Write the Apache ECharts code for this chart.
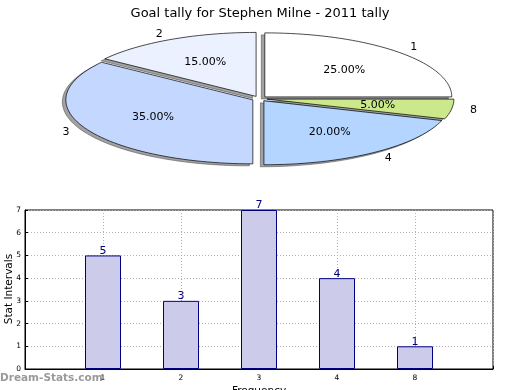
<!DOCTYPE html>
<html><head><meta charset="utf-8">
<script src="https://cdn.jsdelivr.net/npm/echarts@6/dist/echarts.min.js"></script>
<style>html,body{margin:0;padding:0;background:#fff}#c{width:520px;height:390px}</style>
</head><body><div id="c"></div>
<script>
const title = 'Goal tally for Stephen Milne - 2011 tally';
const categories = ['1', '2', '3', '4', '8'];
const counts = [5, 3, 7, 4, 1];
const sliceColors = ['#ffffff', '#ebf1ff', '#c4d7ff', '#b4d5ff', '#cbe88b'];
const yTicks = [0, 1, 2, 3, 4, 5, 6, 7];

const total = counts.reduce((a, b) => a + b, 0);
const PIE = {cx: 259.5, cy: 98.7, rx: 187, ry: 64, explode: 0.04, shadowDx: -3.5, shadowDy: 2};

function sliceGeom(idx) {
  let start = 0;
  for (let i = 0; i < idx; i++) start += counts[i] / total * 360;
  const end = start + counts[idx] / total * 360;
  const mid = (start + end) / 2 * Math.PI / 180;
  const ox = PIE.explode * PIE.rx * Math.cos(mid);
  const oy = -PIE.explode * PIE.ry * Math.sin(mid);
  const pts = [[PIE.cx + ox, PIE.cy + oy]];
  const n = Math.max(4, Math.ceil((end - start) / 2));
  for (let k = 0; k <= n; k++) {
    const a = (start + (end - start) * k / n) * Math.PI / 180;
    pts.push([PIE.cx + ox + PIE.rx * Math.cos(a), PIE.cy + oy - PIE.ry * Math.sin(a)]);
  }
  return {pts, mid, ox, oy};
}

const chart = echarts.init(document.getElementById('c'), null, {renderer: 'canvas'});
const font = 'DejaVu Sans';

chart.setOption({
  animation: false,
  textStyle: {fontFamily: font},
  title: {text: title, left: 'center', top: 2, textStyle: {fontFamily: font, fontSize: 13, fontWeight: 'normal', color: '#000'}},
  graphic: [
    {type: 'text', left: 0, top: 373, style: {text: 'Dream-Stats.com', fill: '#9a9a9a', font: 'bold 10.5px "DejaVu Sans"'}},
    {type: 'text', x: 9, y: 289, rotation: Math.PI / 2, style: {text: 'Stat Intervals', fill: '#000', font: '10.5px "DejaVu Sans"', align: 'center', verticalAlign: 'middle'}}
  ],
  grid: {left: 25, right: 27, top: 210, bottom: 21, show: true, borderColor: '#000', borderWidth: 1, outerBoundsMode: 'none', containLabel: false},
  xAxis: {
    type: 'value', min: 0, max: 6, interval: 1,
    name: 'Frequency', nameLocation: 'middle', nameGap: 17,
    nameTextStyle: {fontFamily: font, fontSize: 10.5, color: '#000'},
    axisLine: {show: true, lineStyle: {color: '#000'}},
    axisTick: {show: true, inside: true, length: 3, lineStyle: {color: '#000'}},
    axisLabel: {fontFamily: font, fontSize: 7.5, color: '#000', margin: 5,
      formatter: v => (v >= 1 && v <= categories.length) ? categories[v - 1] : ''},
    splitLine: {show: true, lineStyle: {color: '#b0b0b0', type: [1, 2], width: 1}}
  },
  yAxis: {
    type: 'value', min: 0, max: 7, interval: 1,
    axisLine: {show: true, lineStyle: {color: '#000'}},
    axisTick: {show: true, inside: true, length: 3, lineStyle: {color: '#000'}},
    axisLabel: {fontFamily: font, fontSize: 7.5, color: '#000', margin: 4,
      formatter: v => yTicks.includes(v) ? String(v) : ''},
    splitLine: {show: true, lineStyle: {color: '#b0b0b0', type: [1, 2], width: 1}}
  },
  series: [
    {
      type: 'bar', barWidth: 36,
      data: counts.map((v, i) => [i + 1, v]),
      itemStyle: {color: '#ccccea', borderColor: '#000080', borderWidth: 1},
      label: {show: true, position: 'top', distance: -1, color: '#000080', fontFamily: font, fontSize: 11},
      z: 3
    },
    {
      type: 'custom', coordinateSystem: 'none', z: 1,
      data: counts.map((v, i) => [i, v]),
      renderItem: function (params, api) {
        const g = sliceGeom(params.dataIndex);
        return {type: 'polygon', shape: {points: g.pts.map(p => [p[0] + PIE.shadowDx, p[1] + PIE.shadowDy])},
          style: {fill: 'rgba(70,70,70,0.5)', stroke: 'rgba(60,60,60,0.6)', lineWidth: 0.8}};
      }
    },
    {
      type: 'custom', coordinateSystem: 'none', z: 2,
      data: counts.map((v, i) => [i, v]),
      renderItem: function (params, api) {
        const i = params.dataIndex;
        const g = sliceGeom(i);
        const c = Math.cos(g.mid), s = Math.sin(g.mid);
        const pct = (counts[i] / total * 100).toFixed(2) + '%';
        const px = PIE.cx + g.ox + 0.6 * PIE.rx * c;
        const py = PIE.cy + g.oy - 0.6 * PIE.ry * s;
        const lx = PIE.cx + g.ox + 1.1 * PIE.rx * c;
        const ly = PIE.cy + g.oy - 1.1 * PIE.ry * s;
        return {type: 'group', children: [
          {type: 'polygon', shape: {points: g.pts}, style: {fill: sliceColors[i], stroke: '#000', lineWidth: 0.7}},
          {type: 'text', x: px, y: py, style: {text: pct, fill: '#000', font: '11px "DejaVu Sans"', align: 'center', verticalAlign: 'middle'}, z2: 10},
          {type: 'text', x: lx, y: ly, style: {text: categories[i], fill: '#000', font: '11px "DejaVu Sans"', align: c >= 0 ? 'left' : 'right', verticalAlign: 'middle'}, z2: 10}
        ]};
      }
    }
  ]
});
</script></body></html>
